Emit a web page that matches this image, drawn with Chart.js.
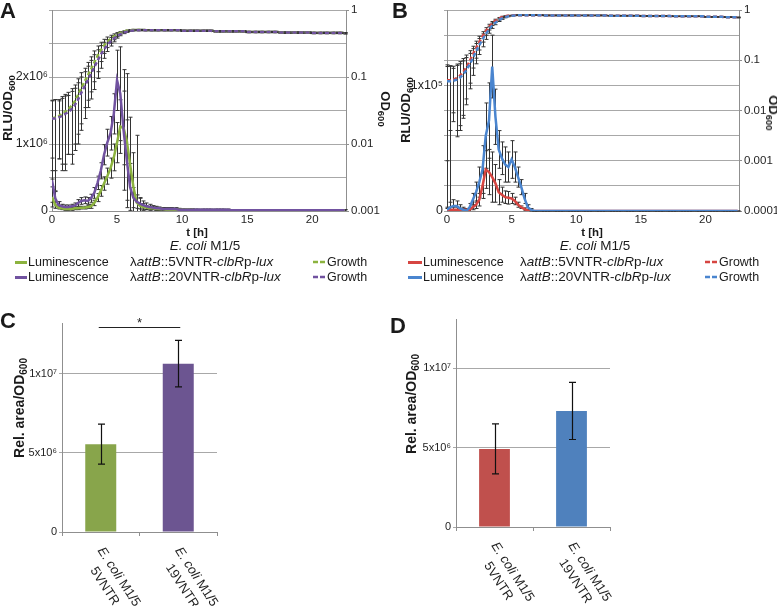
<!DOCTYPE html>
<html>
<head>
<meta charset="utf-8">
<script src="https://cdn.jsdelivr.net/npm/chart.js@4.4.0/dist/chart.umd.min.js"></script>
<style>
  body{margin:0;background:#fff;font-family:"Liberation Sans",Arial,sans-serif;color:#1a1a1a;}
  #fig{position:relative;width:777px;height:606px;overflow:hidden;}
  .abs{position:absolute;white-space:nowrap;}
  canvas{position:absolute;}
  .letter{font-weight:bold;font-size:22px;line-height:22px;}
  .ttl{font-weight:bold;font-size:13px;line-height:14px;}
  .rot-l{transform:translate(-50%,-50%) rotate(-90deg);}
  .rot-r{transform:translate(-50%,-50%) rotate(90deg);}
  .ttl sub{font-size:9.5px;vertical-align:-3px;}
  .bt{font-size:14px;line-height:16px;}
  .bt sub{font-size:10px;vertical-align:-3px;}
  .cx{transform:translateX(-50%);}
  .lg{font-size:12.5px;line-height:16px;}
  .st{font-size:13.5px;line-height:16px;}
  .ln{height:2.5px;width:13px;}
</style>
</head>
<body>
<div id="fig">
  <canvas id="chA" width="390" height="226" style="left:0;top:0"></canvas>
  <canvas id="chB" width="387" height="226" style="left:390px;top:0"></canvas>
  <canvas id="chC" width="260" height="306" style="left:0;top:300px"></canvas>
  <canvas id="chD" width="260" height="306" style="left:390px;top:300px"></canvas>

  <div class="abs letter" style="left:0;top:0">A</div>
  <div class="abs letter" style="left:392px;top:0">B</div>
  <div class="abs letter" style="left:0;top:310px">C</div>
  <div class="abs letter" style="left:390px;top:315px">D</div>

  <!-- axis titles A / B -->
  <div class="abs ttl rot-l" style="left:10px;top:108px">RLU/OD<sub>600</sub></div>
  <div class="abs ttl rot-r" style="left:383px;top:109px">OD<sub>600</sub></div>
  <div class="abs ttl rot-l" style="left:408px;top:110px">RLU/OD<sub>600</sub></div>
  <div class="abs ttl rot-r" style="left:771px;top:113px">OD<sub>600</sub></div>

  <div class="abs ttl cx" style="left:197px;top:225px;font-size:11.5px">t [h]</div>
  <div class="abs cx" style="left:205px;top:238px;font-size:13.5px;line-height:16px"><i>E. coli</i> M1/5</div>
  <div class="abs ttl cx" style="left:592px;top:225px;font-size:11.5px">t [h]</div>
  <div class="abs cx" style="left:595px;top:238px;font-size:13.5px;line-height:16px"><i>E. coli</i> M1/5</div>

  <!-- legend A -->
  <div class="abs ln" style="left:15px;top:261px;width:12px;background:#8CB33F"></div>
  <div class="abs lg" style="left:28px;top:254px">Luminescence</div>
  <div class="abs st" style="left:130px;top:254px">λ<i>attB</i>::5VNTR-<i>clbR</i>p-<i>lux</i></div>
  <svg class="abs" style="left:313px;top:259px" width="14" height="6"><line x1="0" y1="3" x2="14" y2="3" stroke="#8CB33F" stroke-width="2.5" stroke-dasharray="5 2"/></svg>
  <div class="abs lg" style="left:327px;top:254px">Growth</div>
  <div class="abs ln" style="left:15px;top:276px;width:12px;background:#7152A0"></div>
  <div class="abs lg" style="left:28px;top:269px">Luminescence</div>
  <div class="abs st" style="left:130px;top:269px">λ<i>attB</i>::20VNTR-<i>clbR</i>p-<i>lux</i></div>
  <svg class="abs" style="left:313px;top:274px" width="14" height="6"><line x1="0" y1="3" x2="14" y2="3" stroke="#7152A0" stroke-width="2.5" stroke-dasharray="5 2"/></svg>
  <div class="abs lg" style="left:327px;top:269px">Growth</div>

  <!-- legend B -->
  <div class="abs ln" style="left:408px;top:261px;width:14px;background:#D64541"></div>
  <div class="abs lg" style="left:423px;top:254px">Luminescence</div>
  <div class="abs st" style="left:520px;top:254px">λ<i>attB</i>::5VNTR-<i>clbR</i>p-<i>lux</i></div>
  <svg class="abs" style="left:705px;top:259px" width="14" height="6"><line x1="0" y1="3" x2="14" y2="3" stroke="#D64541" stroke-width="2.5" stroke-dasharray="5 2"/></svg>
  <div class="abs lg" style="left:719px;top:254px">Growth</div>
  <div class="abs ln" style="left:408px;top:276px;width:14px;background:#4A85CF"></div>
  <div class="abs lg" style="left:423px;top:269px">Luminescence</div>
  <div class="abs st" style="left:520px;top:269px">λ<i>attB</i>::20VNTR-<i>clbR</i>p-<i>lux</i></div>
  <svg class="abs" style="left:705px;top:274px" width="14" height="6"><line x1="0" y1="3" x2="14" y2="3" stroke="#4A85CF" stroke-width="2.5" stroke-dasharray="5 2"/></svg>
  <div class="abs lg" style="left:719px;top:269px">Growth</div>

  <!-- axis titles C / D -->
  <div class="abs bt ttl rot-l" style="left:21px;top:408px">Rel. area/OD<sub>600</sub></div>
  <div class="abs bt ttl rot-l" style="left:413px;top:404px">Rel. area/OD<sub>600</sub></div>
</div>

<script>
// ============================================================
// data — time courses sampled every 15 min (values read off the figure)
// ============================================================
const hours = [
  0,0.25,0.5,0.75,1,1.25,1.5,1.75,2,2.25,
  2.5,2.75,3,3.25,3.5,3.75,4,4.25,4.5,4.75,
  5,5.25,5.5,5.75,6,6.25,6.5,6.75,7,7.25,
  7.5,7.75,8,8.25,8.5,8.75,9,9.25,9.5,9.75,
  10,10.25,10.5,10.75,11,11.25,11.5,11.75,12,12.25,
  12.5,12.75,13,13.25,13.5,13.75,14,14.25,14.5,14.75,
  15,15.25,15.5,15.75,16,16.25,16.5,16.75,17,17.25,
  17.5,17.75,18,18.25,18.5,18.75,19,19.25,19.5,19.75,
  20,20.25,20.5,20.75,21,21.25,21.5,21.75,22,22.25,
  22.5
];
const hourTicks = [0, 5, 10, 15, 20];

// Panel A — RLU/OD600 in units of 1x10^6
const lumA5 = [
  0.21,0.09,0.05,0.04,0.03,0.03,0.03,0.04,0.04,0.05,
  0.05,0.06,0.07,0.12,0.20,0.30,0.41,0.52,0.64,0.80,
  1.02,1.26,1.24,1.05,0.70,0.37,0.13,0.08,0.06,0.05,
  0.04,0.04,0.03,0.03,0.03,0.02,0.02,0.02,0.02,0.02,
  0.02,0.02,0.02,0.02,0.01,0.01,0.01,0.01,0.01,0.01,
  0.01,0.01,0.01,0.01,0.01,0.01,0.01,0.01,0.01,0.01,
  0.01,0.01,0.01,0.01,0.01,0.01,0.01,0.01,0.01,0.01,
  0.01,0.01,0.01,0.01,0.01,0.01,0.01,0.01,0.01,0.01,
  0.01,0.01,0.01,0.01,0.01,0.01,0.01,0.01,0.01,0.01,
  0.01
];
const errLumA5 = [
  0.15,0.05,0.02,0.02,0.02,0.02,0.02,0.02,0.02,0.02,
  0.02,0.02,0.03,0.04,0.06,0.08,0.10,0.12,0.15,0.20,
  0.30,0.40,0.55,1.00,0.70,0.50,1.00,0.12,0.05,0.03,
  0.03,0.02,0.02,0.02,0.02,0.01,0.01,0.01,0.01,0.01,
  0.01,0.01,0.01,0.01,0.01,0.01,0.01,0.01,0.01,0.01,
  0.01,0.01,0.01,0.01,0.01,0.01,0.01,0.01,0.01,0.01,
  0.01,0.01,0.01,0.01,0.01,0.01,0.01,0.01,0.01,0.01,
  0.01,0.01,0.01,0.01,0.01,0.01,0.01,0.01,0.01,0.01,
  0.01,0.01,0.01,0.01,0.01,0.01,0.01,0.01,0.01,0.01,
  0.01
];
const lumA20 = [
  0.46,0.19,0.09,0.07,0.06,0.06,0.07,0.08,0.12,0.15,
  0.16,0.15,0.19,0.27,0.42,0.60,0.84,1.02,1.16,1.45,
  1.95,1.75,1.21,0.76,0.36,0.20,0.14,0.11,0.09,0.07,
  0.06,0.05,0.04,0.04,0.03,0.03,0.03,0.03,0.03,0.02,
  0.02,0.02,0.02,0.02,0.02,0.02,0.02,0.02,0.02,0.02,
  0.02,0.02,0.02,0.02,0.02,0.01,0.01,0.01,0.01,0.01,
  0.01,0.01,0.01,0.01,0.01,0.01,0.01,0.01,0.01,0.01,
  0.01,0.01,0.01,0.01,0.01,0.01,0.01,0.01,0.01,0.01,
  0.01,0.01,0.01,0.01,0.01,0.01,0.01,0.01,0.01,0.01,
  0.01
];
const errLumA20 = [
  0.33,0.10,0.05,0.03,0.03,0.03,0.03,0.04,0.05,0.05,
  0.05,0.05,0.06,0.08,0.10,0.12,0.15,0.20,0.25,0.30,
  0.45,0.70,0.90,0.60,0.35,0.15,0.10,0.08,0.06,0.05,
  0.04,0.03,0.03,0.02,0.02,0.02,0.02,0.02,0.02,0.02,
  0.01,0.01,0.01,0.01,0.01,0.01,0.01,0.01,0.01,0.01,
  0.01,0.01,0.01,0.01,0.01,0.01,0.01,0.01,0.01,0.01,
  0.01,0.01,0.01,0.01,0.01,0.01,0.01,0.01,0.01,0.01,
  0.01,0.01,0.01,0.01,0.01,0.01,0.01,0.01,0.01,0.01,
  0.01,0.01,0.01,0.01,0.01,0.01,0.01,0.01,0.01,0.01,
  0.01
];
// Panel A — OD600
const growA5 = [
  0.024,0.025,0.026,0.028,0.030,0.033,0.037,0.043,0.054,0.068,
  0.085,0.105,0.13,0.165,0.205,0.25,0.295,0.335,0.37,0.40,
  0.43,0.455,0.475,0.49,0.50,0.505,0.505,0.505,0.505,0.50,
  0.50,0.50,0.50,0.50,0.50,0.50,0.50,0.50,0.50,0.50,
  0.49,0.49,0.49,0.49,0.49,0.49,0.49,0.49,0.49,0.49,
  0.48,0.48,0.48,0.48,0.48,0.48,0.48,0.48,0.48,0.48,
  0.47,0.47,0.47,0.47,0.47,0.47,0.47,0.47,0.47,0.47,
  0.46,0.46,0.46,0.46,0.46,0.46,0.46,0.46,0.46,0.46,
  0.455,0.455,0.455,0.455,0.455,0.455,0.455,0.455,0.455,0.455,
  0.45
];
const errGrowA5 = [
  0.021,0.021,0.020,0.023,0.025,0.026,0.030,0.033,0.040,0.048,
  0.05,0.06,0.07,0.08,0.085,0.08,0.07,0.06,0.05,0.04,
  0.03,0.02,0.015,0.012,0.01,0.01,0.01,0.01,0.01,0.01,
  0.01,0.01,0.01,0.01,0.01,0.01,0.01,0.01,0.01,0.01,
  0.01,0.01,0.01,0.01,0.01,0.01,0.01,0.01,0.01,0.01,
  0.01,0.01,0.01,0.01,0.01,0.01,0.01,0.01,0.01,0.01,
  0.01,0.01,0.01,0.01,0.01,0.01,0.01,0.01,0.01,0.01,
  0.01,0.01,0.01,0.01,0.01,0.01,0.01,0.01,0.01,0.01,
  0.01,0.01,0.01,0.01,0.01,0.01,0.01,0.01,0.01,0.01,
  0.01
];
const growA20 = [
  0.024,0.024,0.025,0.026,0.028,0.030,0.033,0.038,0.046,0.058,
  0.072,0.09,0.112,0.14,0.175,0.215,0.26,0.30,0.34,0.375,
  0.41,0.435,0.46,0.475,0.49,0.495,0.50,0.50,0.50,0.50,
  0.50,0.50,0.50,0.50,0.50,0.50,0.50,0.50,0.50,0.50,
  0.49,0.49,0.49,0.49,0.49,0.49,0.49,0.49,0.49,0.49,
  0.48,0.48,0.48,0.48,0.48,0.48,0.48,0.48,0.48,0.48,
  0.47,0.47,0.47,0.47,0.47,0.47,0.47,0.47,0.47,0.47,
  0.46,0.46,0.46,0.46,0.46,0.46,0.46,0.46,0.46,0.46,
  0.455,0.455,0.455,0.455,0.455,0.455,0.455,0.455,0.455,0.455,
  0.45
];
const errGrowA20 = [
  0.020,0.022,0.019,0.022,0.024,0.023,0.028,0.030,0.036,0.042,
  0.048,0.055,0.065,0.075,0.08,0.08,0.07,0.06,0.05,0.04,
  0.03,0.022,0.016,0.012,0.01,0.01,0.01,0.01,0.01,0.01,
  0.01,0.01,0.01,0.01,0.01,0.01,0.01,0.01,0.01,0.01,
  0.01,0.01,0.01,0.01,0.01,0.01,0.01,0.01,0.01,0.01,
  0.01,0.01,0.01,0.01,0.01,0.01,0.01,0.01,0.01,0.01,
  0.01,0.01,0.01,0.01,0.01,0.01,0.01,0.01,0.01,0.01,
  0.01,0.01,0.01,0.01,0.01,0.01,0.01,0.01,0.01,0.01,
  0.01,0.01,0.01,0.01,0.01,0.01,0.01,0.01,0.01,0.01,
  0.01
];

// Panel B — RLU/OD600 in units of 1x10^5
const lumB5 = [
  0.01,0.01,0.01,0.01,0.01,0.01,0.01,0.01,0.03,0.05,
  0.09,0.20,0.33,0.31,0.27,0.22,0.15,0.13,0.11,0.105,
  0.10,0.08,0.05,0.03,0.015,0.005,0,0,0,0,
  0,0,0,0,0,0,0,0,0,0,
  0,0,0,0,0,0,0,0,0,0,
  0,0,0,0,0,0,0,0,0,0,
  0,0,0,0,0,0,0,0,0,0,
  0,0,0,0,0,0,0,0,0,0,
  0,0,0,0,0,0,0,0,0,0,
  0
];
const errLumB5 = [
  0.01,0.02,0.02,0.02,0.01,0.01,0.01,0.01,0.02,0.03,
  0.05,0.10,0.15,0.18,0.20,0.15,0.10,0.06,0.05,0.05,
  0.04,0.03,0.02,0.01,0.01,0.005,0,0,0,0,
  0,0,0,0,0,0,0,0,0,0,
  0,0,0,0,0,0,0,0,0,0,
  0,0,0,0,0,0,0,0,0,0,
  0,0,0,0,0,0,0,0,0,0,
  0,0,0,0,0,0,0,0,0,0,
  0,0,0,0,0,0,0,0,0,0,
  0
];
const lumB20 = [
  0.01,0.03,0.04,0.04,0.02,0.01,0,0.03,0.09,0.15,
  0.23,0.33,0.60,0.72,1.15,0.75,0.49,0.42,0.37,0.35,
  0.41,0.35,0.27,0.19,0.10,0.03,0.01,0,0,0,
  0,0,0,0,0,0,0,0,0,0,
  0,0,0,0,0,0,0,0,0,0,
  0,0,0,0,0,0,0,0,0,0,
  0,0,0,0,0,0,0,0,0,0,
  0,0,0,0,0,0,0,0,0,0,
  0,0,0,0,0,0,0,0,0,0,
  0
];
const errLumB20 = [
  0.02,0.04,0.05,0.04,0.03,0.02,0.01,0.03,0.05,0.08,
  0.12,0.19,0.26,0.30,0.25,0.22,0.15,0.13,0.14,0.12,
  0.15,0.12,0.08,0.06,0.04,0.02,0.01,0,0,0,
  0,0,0,0,0,0,0,0,0,0,
  0,0,0,0,0,0,0,0,0,0,
  0,0,0,0,0,0,0,0,0,0,
  0,0,0,0,0,0,0,0,0,0,
  0,0,0,0,0,0,0,0,0,0,
  0,0,0,0,0,0,0,0,0,0,
  0
];
// Panel B — OD600
const growB5 = [
  0.040,0.040,0.041,0.044,0.049,0.058,0.072,0.095,0.13,0.175,
  0.23,0.30,0.38,0.46,0.54,0.61,0.67,0.72,0.75,0.77,
  0.78,0.79,0.79,0.79,0.79,0.79,0.79,0.79,0.79,0.79,
  0.78,0.78,0.78,0.78,0.78,0.78,0.78,0.78,0.78,0.78,
  0.78,0.78,0.78,0.78,0.78,0.78,0.78,0.78,0.78,0.78,
  0.77,0.77,0.77,0.77,0.77,0.77,0.77,0.77,0.77,0.77,
  0.76,0.76,0.76,0.76,0.76,0.76,0.76,0.76,0.76,0.76,
  0.75,0.75,0.75,0.75,0.75,0.75,0.75,0.75,0.75,0.75,
  0.73,0.73,0.73,0.73,0.73,0.73,0.72,0.72,0.72,0.72,
  0.71
];
const errGrowB5 = [
  0.041,0.036,0.035,0.040,0.045,0.05,0.055,0.06,0.06,0.065,
  0.07,0.07,0.065,0.06,0.05,0.045,0.04,0.03,0.02,0.015,
  0.01,0.01,0.01,0.01,0.01,0.01,0.01,0.01,0.01,0.01,
  0.01,0.01,0.01,0.01,0.01,0.01,0.01,0.01,0.01,0.01,
  0.01,0.01,0.01,0.01,0.01,0.01,0.01,0.01,0.01,0.01,
  0.01,0.01,0.01,0.01,0.01,0.01,0.01,0.01,0.01,0.01,
  0.01,0.01,0.01,0.01,0.01,0.01,0.01,0.01,0.01,0.01,
  0.01,0.01,0.01,0.01,0.01,0.01,0.01,0.01,0.01,0.01,
  0.01,0.01,0.01,0.01,0.01,0.01,0.01,0.01,0.01,0.01,
  0.01
];
const growB20 = [
  0.038,0.038,0.039,0.041,0.045,0.052,0.063,0.082,0.11,0.15,
  0.20,0.26,0.33,0.41,0.49,0.56,0.63,0.68,0.72,0.75,
  0.77,0.78,0.79,0.79,0.79,0.79,0.79,0.79,0.79,0.79,
  0.78,0.78,0.78,0.78,0.78,0.78,0.78,0.78,0.78,0.78,
  0.78,0.78,0.78,0.78,0.78,0.78,0.78,0.78,0.78,0.78,
  0.77,0.77,0.77,0.77,0.77,0.77,0.77,0.77,0.77,0.77,
  0.76,0.76,0.76,0.76,0.76,0.76,0.76,0.76,0.76,0.76,
  0.75,0.75,0.75,0.75,0.75,0.75,0.75,0.75,0.75,0.75,
  0.73,0.73,0.73,0.73,0.73,0.73,0.72,0.72,0.72,0.72,
  0.71
];
const errGrowB20 = [
  0.037,0.040,0.030,0.038,0.040,0.045,0.05,0.055,0.06,0.065,
  0.07,0.075,0.07,0.065,0.06,0.05,0.04,0.03,0.02,0.015,
  0.01,0.01,0.01,0.01,0.01,0.01,0.01,0.01,0.01,0.01,
  0.01,0.01,0.01,0.01,0.01,0.01,0.01,0.01,0.01,0.01,
  0.01,0.01,0.01,0.01,0.01,0.01,0.01,0.01,0.01,0.01,
  0.01,0.01,0.01,0.01,0.01,0.01,0.01,0.01,0.01,0.01,
  0.01,0.01,0.01,0.01,0.01,0.01,0.01,0.01,0.01,0.01,
  0.01,0.01,0.01,0.01,0.01,0.01,0.01,0.01,0.01,0.01,
  0.01,0.01,0.01,0.01,0.01,0.01,0.01,0.01,0.01,0.01,
  0.01
];

const odTicksA = [0.001, 0.01, 0.1, 1];
const odTicksB = [0.0001, 0.001, 0.01, 0.1, 1];

// Panels C / D — relative area / OD600 in units of 1x10^6
const catsC = [['E. coli M1/5', '5VNTR'], ['E. coli M1/5', '19VNTR']];
const areaC = [5.55, 10.63];
const errAreaC = [1.26, 1.47];
const catsD = [['E. coli M1/5', '5VNTR'], ['E. coli M1/5', '19VNTR']];
const areaD = [4.92, 7.31];
const errAreaD = [1.57, 1.80];
const areaTickVals = [0, 5, 10];
const areaTickText = ['0', '5x10⁶', '1x10⁷'];
const sigLevelC = 12.93;   // height of the significance bracket in C

// ============================================================
// helpers
// ============================================================
const FONT = '"Liberation Sans", Arial, sans-serif';
const TXT = '#1f1f1f', GRID = '#a8a8a8', AXIS = '#8f8f8f';
Chart.defaults.font.family = FONT;

function drawErrorBars(chart, opts){
  const { ctx, chartArea:a, scales } = chart;
  ctx.save();
  ctx.beginPath(); ctx.rect(a.left-5, a.top-1, a.right-a.left+10, a.bottom-a.top+2); ctx.clip();
  ctx.strokeStyle = opts.color; ctx.lineWidth = opts.width;
  chart.data.datasets.forEach(ds => {
    if(!ds.err) return;
    const ys = scales[ds.yAxisID || 'y'], xs = scales.x;
    ds.data.forEach((p, i) => {
      const v = typeof p === 'object' ? p.y : p;
      const e = ds.err[i];
      const x = Math.round(xs.getPixelForValue(typeof p === 'object' ? p.x : i)) + 0.5;
      const top = ys.getPixelForValue(v + e);
      const hasLow = (v - e) > ys.min;
      const bot = hasLow ? ys.getPixelForValue(v - e) : a.bottom;
      ctx.beginPath();
      ctx.moveTo(x, top); ctx.lineTo(x, bot);
      ctx.moveTo(x - opts.cap, top); ctx.lineTo(x + opts.cap, top);
      if(hasLow){ ctx.moveTo(x - opts.cap, bot); ctx.lineTo(x + opts.cap, bot); }
      ctx.stroke();
    });
  });
  ctx.restore();
}

const errorBars = {
  id:'errorBars',
  beforeDatasetsDraw(chart, args, opts){ if(opts.under) drawErrorBars(chart, opts); },
  afterDatasetsDraw(chart, args, opts){ if(!opts.under) drawErrorBars(chart, opts); }
};

// rotated two-line category labels (text runs down to the right)
const rotatedLabels = {
  id:'rotatedLabels',
  afterDraw(chart, args, opts){
    const { ctx, chartArea:a, scales:{ x } } = chart;
    const ang = opts.angle * Math.PI / 180;
    ctx.save();
    ctx.fillStyle = TXT;
    ctx.textBaseline = 'middle';
    chart.data.labels.forEach((lab, i) => {
      ctx.save();
      ctx.translate(x.getPixelForValue(i) + opts.dx, a.bottom + opts.dy);
      ctx.rotate(ang);
      const m = /^(E\. coli)(.*)$/.exec(lab[0]);
      ctx.font = 'italic 13px ' + FONT;
      const w1 = ctx.measureText(m[1]).width;
      ctx.font = '13px ' + FONT;
      const w2 = ctx.measureText(m[2]).width;
      const sx = -(w1 + w2) / 2;
      ctx.textAlign = 'left';
      ctx.font = 'italic 13px ' + FONT; ctx.fillText(m[1], sx, 0);
      ctx.font = '13px ' + FONT; ctx.fillText(m[2], sx + w1, 0);
      ctx.textAlign = 'center';
      ctx.fillText(lab[1], 0, opts.lineH);
      ctx.restore();
    });
    ctx.restore();
  }
};

function makeTimeChart(canvasId, sets, lum, odTicks, sizes){
  return new Chart(document.getElementById(canvasId), {
    type:'line',
    data:{ datasets: sets.map(s => ({
      data: hours.map((t, i) => ({ x:t, y:s.values[i] })),
      err: s.err, yAxisID: s.axis, borderColor: s.color, backgroundColor: s.color,
      borderWidth: 2.5, borderDash: s.axis === 'y2' ? [4, 2.5] : [],
      pointRadius: 0, tension: 0
    }))},
    options:{
      responsive:false, animation:false, devicePixelRatio:1, events:[],
      layout:{ padding:{ top:10, left:0, right:0, bottom:0 } },
      plugins:{ legend:{ display:false }, tooltip:{ enabled:false },
        errorBars:{ color:'#333', width:1, cap:2, under:true } },
      scales:{
        x:{ type:'linear', min:0, max:22.6,
            afterBuildTicks:(s)=>{ s.ticks = hourTicks.map(v => ({ value:v })); },
            ticks:{ color:TXT, font:{ size:11.5 }, padding:2, maxRotation:0 },
            grid:{ display:false, drawTicks:false }, border:{ color:AXIS },
            afterFit:(s)=>{ s.height = 15; } },
        y:{ position:'left', min:0, max:lum.max,
            ticks:{ stepSize:lum.step, color:TXT, font:{ size:12.5 }, padding:1, callback:lum.label },
            grid:{ color:GRID, drawTicks:true, tickLength:3 }, border:{ color:AXIS },
            afterFit:(s)=>{ s.width = sizes.left; } },
        y2:{ type:'logarithmic', position:'right', min:odTicks[0], max:odTicks[odTicks.length-1],
            afterBuildTicks:(s)=>{ s.ticks = odTicks.map(v => ({ value:v })); },
            ticks:{ color:TXT, font:{ size:11.5 }, padding:2, callback:(v)=> String(v) },
            grid:{ drawOnChartArea:false, drawTicks:true, tickLength:3, color:AXIS }, border:{ color:AXIS },
            afterFit:(s)=>{ s.width = sizes.right; } }
      }
    },
    plugins:[errorBars]
  });
}

function makeBarChart(canvasId, labels, values, errs, colors, yMax, sizes, extra = []){
  return new Chart(document.getElementById(canvasId), {
    type:'bar',
    data:{ labels, datasets:[{ data:values, err:errs, backgroundColor:colors, borderWidth:0,
      barPercentage:0.4, categoryPercentage:1.0 }] },
    options:{
      responsive:false, animation:false, devicePixelRatio:1, events:[],
      layout:{ padding:{ top:sizes.top, right:sizes.right, left:0, bottom:0 } },
      plugins:{ legend:{ display:false }, tooltip:{ enabled:false },
        errorBars:{ color:'#111', width:1.2, cap:3.5, under:false },
        rotatedLabels:{ angle:57, dx:18, dy:45, lineH:17 } },
      scales:{
        x:{ type:'category', offset:true,
            ticks:{ display:false },
            grid:{ display:true, drawOnChartArea:false, offset:true, drawTicks:true, tickLength:4, color:AXIS },
            border:{ color:AXIS },
            afterFit:(s)=>{ s.height = sizes.bottom; } },
        y:{ min:0, max:yMax,
            afterBuildTicks:(s)=>{ s.ticks = areaTickVals.map(v => ({ value:v })); },
            ticks:{ color:TXT, font:{ size:11 }, padding:2, callback:(v, i)=> areaTickText[i] },
            grid:{ color:GRID, drawTicks:true, tickLength:3 }, border:{ color:AXIS },
            afterFit:(s)=>{ s.width = sizes.left; } }
      }
    },
    plugins:[errorBars, rotatedLabels, ...extra]
  });
}

// ============================================================
// charts
// ============================================================
makeTimeChart('chA', [
  { values:lumA20, err:errLumA20, axis:'y', color:'#7152A0' },
  { values:lumA5, err:errLumA5, axis:'y', color:'#8CB33F' },
  { values:growA20, err:errGrowA20, axis:'y2', color:'#7152A0' },
  { values:growA5, err:errGrowA5, axis:'y2', color:'#8CB33F' }
], { max:3, step:0.5, label:(v)=> v === 0 ? '0' : (Number.isInteger(v) && v < 3 ? v + 'x10⁶' : '') },
   odTicksA, { left:52, right:44 });

makeTimeChart('chB', [
  { values:lumB20, err:errLumB20, axis:'y', color:'#4A85CF' },
  { values:lumB5, err:errLumB5, axis:'y', color:'#D64541' },
  { values:growB20, err:errGrowB20, axis:'y2', color:'#4A85CF' },
  { values:growB5, err:errGrowB5, axis:'y2', color:'#D64541' }
], { max:1.6, step:0.2, label:(v)=> v === 0 ? '0' : (Math.abs(v - 1) < 1e-9 ? '1x10⁵' : '') },
   odTicksB, { left:57, right:38 });

const sigBracket = {
  id:'sigBracket',
  afterDraw(chart){
    const { ctx, scales:{ x, y } } = chart;
    const yy = Math.round(y.getPixelForValue(sigLevelC)) + 0.5;
    const x0 = x.getPixelForValue(0) - 2, x1 = x.getPixelForValue(1) + 2;
    ctx.save();
    ctx.strokeStyle = '#222'; ctx.lineWidth = 1;
    ctx.beginPath(); ctx.moveTo(x0, yy); ctx.lineTo(x1, yy); ctx.stroke();
    ctx.fillStyle = '#222'; ctx.font = '13px ' + FONT; ctx.textAlign = 'center'; ctx.textBaseline = 'alphabetic';
    ctx.fillText('*', (x0 + x1) / 2, yy - 1);
    ctx.restore();
  }
};

makeBarChart('chC', catsC, areaC, errAreaC, ['#88A54B', '#6C5591'], 13.2,
  { left:62, top:23, bottom:74, right:43 }, [sigBracket]);
makeBarChart('chD', catsD, areaD, errAreaD, ['#C0504D', '#4F81BD'], 13.1,
  { left:66, top:19, bottom:79, right:40 });
</script>
</body>
</html>
